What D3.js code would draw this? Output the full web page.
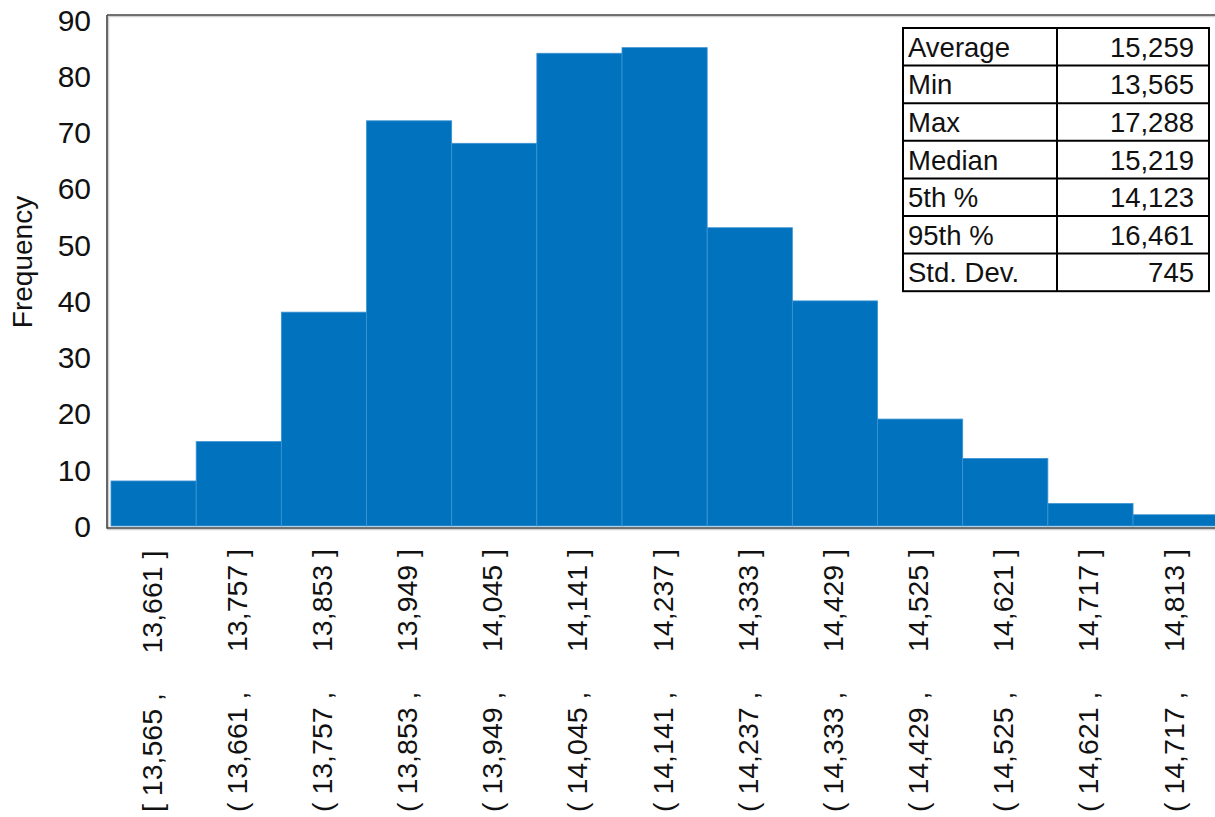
<!DOCTYPE html>
<html>
<head>
<meta charset="utf-8">
<script src="https://cdn.jsdelivr.net/npm/d3@7"></script>
<style>
  html, body { margin: 0; padding: 0; background: #fff; }
  svg { display: block; font-family: "Liberation Sans", Arial, sans-serif; }
</style>
</head>
<body>
<svg id="chart" width="1215" height="817"></svg>
<script>
// ---- data ----
const binStarts = [13565, 13661, 13757, 13853, 13949, 14045, 14141, 14237, 14333, 14429, 14525, 14621, 14717];
const binEnds   = [13661, 13757, 13853, 13949, 14045, 14141, 14237, 14333, 14429, 14525, 14621, 14717, 14813];
const frequencies = [8, 15, 38, 72, 68, 84, 85, 53, 40, 19, 12, 4, 2];
const yTicks = [0, 10, 20, 30, 40, 50, 60, 70, 80, 90];
const statLabels = ["Average", "Min", "Max", "Median", "5th %", "95th %", "Std. Dev."];
const statValues = [15259, 13565, 17288, 15219, 14123, 16461, 745];

const svg = d3.select("#chart");
const fmt = d3.format(",");

const frame = { left: 107, top: 15, right: 1216, bottom: 528 };

const x = d3.scaleLinear()
  .domain([binStarts[0], binEnds[binEnds.length - 1]])
  .range([111, 111 + 13 * 85.17]);
const y = d3.scaleLinear().domain([0, 90]).range([526, 19.5]);

const barColor = "#0173BE";

// bars
svg.append("g").selectAll("rect")
  .data(frequencies)
  .join("rect")
  .attr("x", (d, i) => x(binStarts[i]))
  .attr("y", d => y(d))
  .attr("width", (d, i) => x(binEnds[i]) - x(binStarts[i]))
  .attr("height", d => y(0) - y(d))
  .attr("fill", barColor)
  .attr("stroke", "#3d93d3")
  .attr("stroke-width", 0.8);

// frame (top, left, bottom)
const fg = svg.append("g");
fg.append("path")
  .attr("d", `M${frame.left + 1.5},${frame.top + 1.5} H${frame.right} M${frame.left + 1.5},${frame.top + 1.5} V${frame.bottom + 1.5} M${frame.left},${frame.bottom + 1.5} H${frame.right}`)
  .attr("stroke", "#d0d0d0").attr("stroke-width", 1.5).attr("fill", "none");
fg.append("path")
  .attr("d", `M${frame.left},${frame.top} H${frame.right} M${frame.left},${frame.top} V${frame.bottom} H${frame.right}`)
  .attr("stroke", "#444").attr("stroke-width", 1.6).attr("fill", "none");

// y axis labels
const yAxis = d3.axisLeft(y).tickValues(yTicks).tickSize(0).tickPadding(0);
const yg = svg.append("g").attr("transform", "translate(91,0)").call(yAxis);
yg.select(".domain").remove();
yg.selectAll("text")
  .attr("font-size", 30)
  .attr("fill", "#111")
  .attr("font-family", "Liberation Sans, Arial, sans-serif")
  .attr("dy", "0.35em");

// y title
svg.append("text")
  .attr("transform", "translate(32,262) rotate(-90)")
  .attr("text-anchor", "middle")
  .attr("font-size", 28)
  .attr("fill", "#111")
  .text("Frequency");

// x labels (rotated)
const xl = svg.append("g");
binStarts.forEach((s, i) => {
  const open = i === 0 ? "[" : "(";
  const cx = (x(s) + x(binEnds[i])) / 2 + 8;
  xl.append("text")
    .attr("transform", `translate(${cx},812) rotate(-90)`)
    .attr("text-anchor", "start")
    .attr("font-size", 28.5)
    .attr("fill", "#111")
    .attr("xml:space", "preserve")
    .style("white-space", "pre")
    .text(`${open} ${fmt(s)} ,     ${fmt(binEnds[i])} ]`);
});

// stats table
const tbl = { left: 903, mid: 1057, right: 1209, top: 28, rowH: 37.6 };
const tg = svg.append("g");
tg.append("rect")
  .attr("x", tbl.left).attr("y", tbl.top)
  .attr("width", tbl.right - tbl.left)
  .attr("height", tbl.rowH * statLabels.length)
  .attr("fill", "#fff").attr("stroke", "#000").attr("stroke-width", 2);
tg.append("line")
  .attr("x1", tbl.mid).attr("x2", tbl.mid)
  .attr("y1", tbl.top).attr("y2", tbl.top + tbl.rowH * statLabels.length)
  .attr("stroke", "#000").attr("stroke-width", 2);
statLabels.forEach((lab, i) => {
  const ry = tbl.top + i * tbl.rowH;
  if (i > 0) {
    tg.append("line").attr("x1", tbl.left).attr("x2", tbl.right)
      .attr("y1", ry).attr("y2", ry).attr("stroke", "#000").attr("stroke-width", 2);
  }
  tg.append("text")
    .attr("x", tbl.left + 5).attr("y", ry + tbl.rowH / 2)
    .attr("dy", "0.36em").attr("font-size", 27.5).attr("fill", "#111")
    .text(lab);
  tg.append("text")
    .attr("x", tbl.right - 15).attr("y", ry + tbl.rowH / 2)
    .attr("dy", "0.36em").attr("font-size", 27.5).attr("fill", "#111")
    .attr("text-anchor", "end")
    .text(fmt(statValues[i]));
});
</script>
</body>
</html>
